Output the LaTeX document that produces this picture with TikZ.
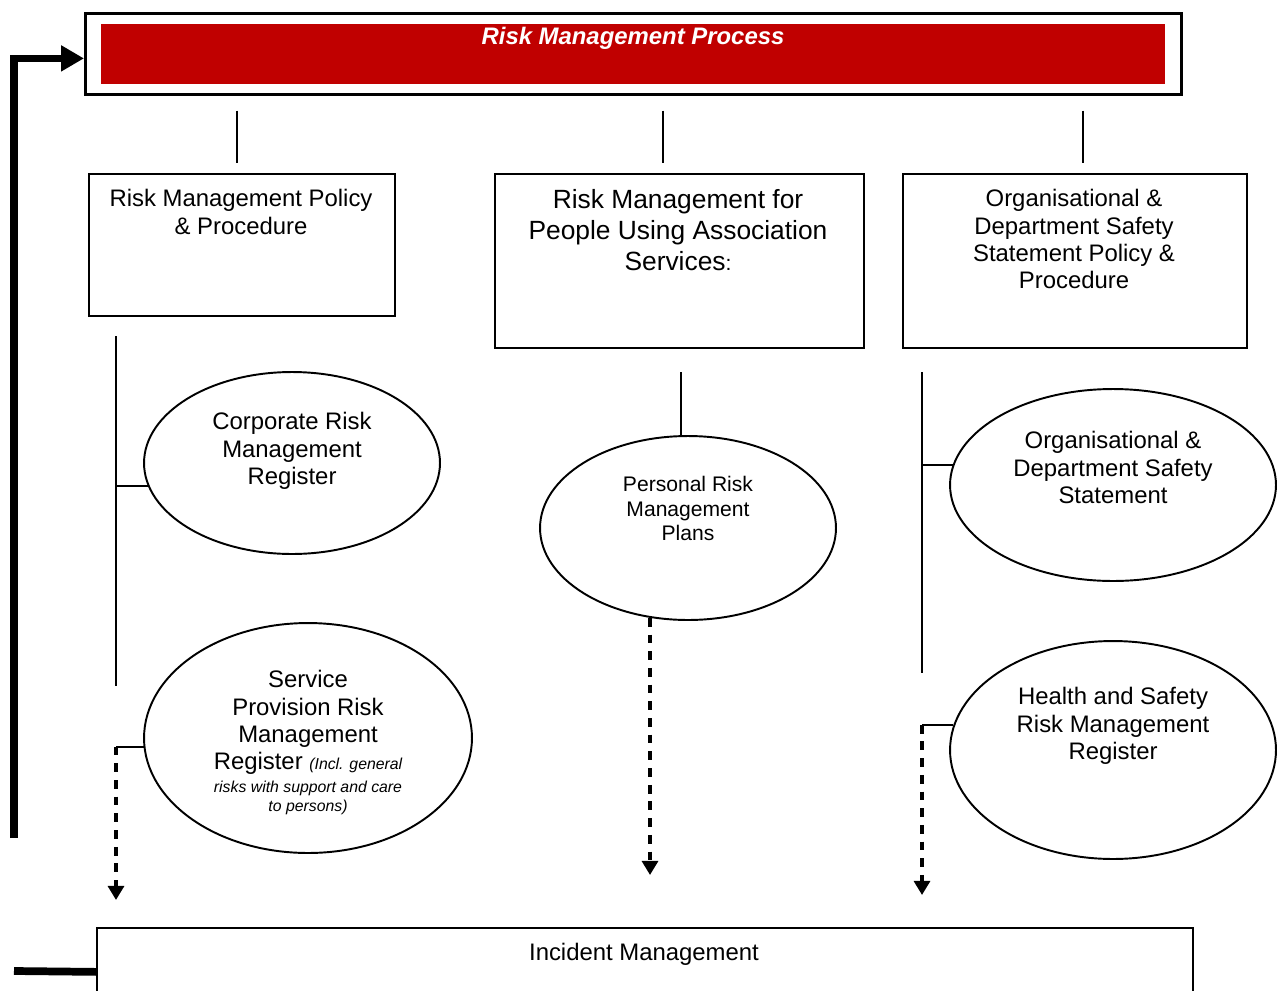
\documentclass[tikz,border=0pt]{standalone}
\usepackage{fontspec}
\setmainfont{Liberation Sans}
\usetikzlibrary{arrows.meta, positioning, shapes.geometric, calc}
\definecolor{RiskRed}{HTML}{C00000}

\begin{document}
\begin{tikzpicture}[
    x=0.02cm, y=-0.02cm, % 1 unit = 1 px, y pointing down
    % Reusable styles for frames, ellipses, text and connectors
    header frame/.style={draw=black, line width=1.6pt, inner sep=0pt},
    header bar/.style={fill=RiskRed, draw=none, inner sep=0pt},
    header text/.style={text=white, font=\fontsize{13.6}{15.6}\selectfont\bfseries\itshape, inner sep=0pt},
    doc box/.style={draw=black, line width=1pt, inner sep=0pt},
    risk ellipse/.style={ellipse, draw=black, line width=1.1pt, inner sep=0pt},
    body text/.style={font=\fontsize{13.6}{15.6}\selectfont, align=center, inner sep=0pt},
    link/.style={draw=black, line width=1.1pt},
    flow/.style={draw=black, line width=2pt, dash pattern=on 5pt off 4.5pt, -{Triangle[length=8pt, width=9pt]}},
    feedback/.style={draw=black, line width=4.4pt},
    feedback arrow/.style={feedback, -{Triangle[length=13pt, width=14pt]}}
]
    \useasboundingbox (0,0) rectangle (1283,990);
    \clip (0,0) rectangle (1283,990);

    % -------------------------
    % Title bar
    % -------------------------
    \node[header frame, minimum width=21.92cm, minimum height=1.62cm, anchor=north west] (header) at (84,12) {};
    \node[header bar, minimum width=21.28cm, minimum height=1.2cm] (bar) at (header.center) {};
    \node[header text, anchor=north] (title) at (633,27) {Risk Management Process};

    % -------------------------
    % Policy boxes (top row)
    % -------------------------
    \node[doc box, minimum width=6.12cm, minimum height=2.84cm, anchor=north west] (policy) at (88,173) {};
    \node[body text, anchor=north] (policy_txt) at (241,189) {Risk Management Policy\\ \& Procedure};

    \node[doc box, minimum width=7.38cm, minimum height=3.48cm, anchor=north west] (people) at (494,173) {};
    \node[body text, font=\fontsize{15}{17.6}\selectfont, anchor=north] (people_txt) at (678,189)
        {Risk Management for\\ People Using Association\\ Services{\fontsize{12}{14}\selectfont:}};

    \node[doc box, minimum width=6.88cm, minimum height=3.48cm, anchor=north west] (safety) at (902,173) {};
    \node[body text, anchor=north] (safety_txt) at (1074,189)
        {Organisational \&\\ Department Safety\\ Statement Policy \&\\ Procedure};

    % drop lines under the title bar (they touch neither box)
    \foreach \n/\dx in {policy/-5, people/-16, safety/8}
        \draw[link, shorten <=8.5pt, shorten >=5.7pt]
            ($(\n.north |- header.south)+(\dx,0)$) -- ($(\n.north)+(\dx,0)$);

    % -------------------------
    % Left column: registers
    % -------------------------
    \node[risk ellipse, minimum width=5.92cm, minimum height=3.64cm] (corp) at (292,463) {};
    \node[body text, anchor=north] (corp_txt) at (292,412) {Corporate Risk\\ Management\\ Register};

    \node[risk ellipse, minimum width=6.56cm, minimum height=4.6cm] (svc) at (308,738) {};
    \node[body text, anchor=north] (svc_txt) at (308,670)
        {Service\\ Provision Risk\\ Management\\
         Register {\fontsize{9}{11}\selectfont\itshape (Incl. general}\\[-2.6pt]
         {\fontsize{9}{11}\selectfont\itshape risks with support and care}\\[-4.8pt]
         {\fontsize{9}{11}\selectfont\itshape to persons)}};

    \coordinate (spineL_top) at (116,336);
    \coordinate (spineL_bot) at (116,686);
    \coordinate (svc_end) at (116,900);
    \draw[link] (spineL_top) -- (spineL_bot);
    \draw[link] (corp.189) -- (corp.189 -| spineL_top);
    \draw[link] (svc.183) -- (svc.183 -| svc_end);
    \draw[flow] (svc.183 -| svc_end) -- (svc_end);

    % -------------------------
    % Middle column: personal plans
    % -------------------------
    \node[risk ellipse, minimum width=5.92cm, minimum height=3.68cm] (pers) at (688,528) {};
    \node[body text, font=\fontsize{12}{13.9}\selectfont, anchor=north] (pers_txt) at (688,476)
        {Personal Risk\\ Management\\ Plans};

    \coordinate (plans_top) at (681,372);
    \coordinate (plans_end) at (650,875);
    \draw[link] (plans_top) -- (plans_top |- pers.north);
    \draw[flow] (plans_end |- pers.247) -- (plans_end);

    % -------------------------
    % Right column: safety statement and H&S register
    % -------------------------
    \node[risk ellipse, minimum width=6.52cm, minimum height=3.84cm] (dept) at (1113,485) {};
    \node[body text, anchor=north] (dept_txt) at (1113,431)
        {Organisational \&\\ Department Safety\\ Statement};

    \node[risk ellipse, minimum width=6.52cm, minimum height=4.36cm] (hs) at (1113,750) {};
    \node[body text, anchor=north] (hs_txt) at (1113,687)
        {Health and Safety\\ Risk Management\\ Register};

    \coordinate (spineR_top) at (922,372);
    \coordinate (spineR_bot) at (922,673);
    \coordinate (hs_end) at (922,895);
    \draw[link] (spineR_top) -- (spineR_bot);
    \draw[link] (dept.173) -- (dept.173 -| spineR_top);
    \draw[link] (hs.171) -- (hs.171 -| hs_end);
    \draw[flow] (hs.171 -| hs_end) -- (hs_end);

    % -------------------------
    % Incident management + feedback loop
    % -------------------------
    \node[doc box, minimum width=21.92cm, minimum height=1.76cm, anchor=north west] (incident) at (96,927) {};
    \node[body text, anchor=north] (incident_txt) at (644,943) {Incident Management};

    \coordinate (fb_low) at (14,838);
    \coordinate (fb_out) at (14,971);
    \draw[feedback arrow] (fb_low) |- ([yshift=-0.09cm]header.west);
    \draw[feedback] (fb_out) -- (incident.west);

\end{tikzpicture}
\end{document}
